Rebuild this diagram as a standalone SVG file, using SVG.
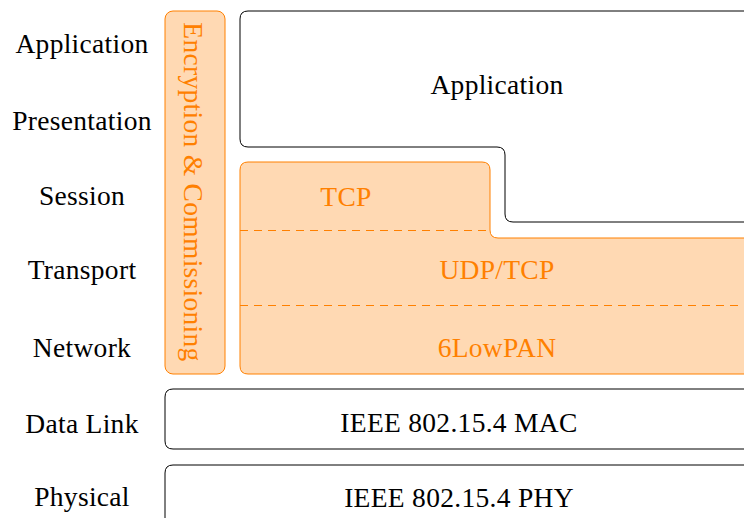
<svg xmlns="http://www.w3.org/2000/svg" width="744" height="518" viewBox="0 0 744 518">
<style>
text{font-family:"Liberation Serif","DejaVu Serif",serif;font-size:27.5px;letter-spacing:0.3px;text-anchor:middle}
.lbl{fill:#000}
.ot{fill:#ff8000}
.box{fill:#fff;stroke:#000;stroke-width:1}
.obox{fill:#ffd9b3;stroke:#ff8000;stroke-width:1}
.dash{fill:none;stroke:#ff8000;stroke-width:1.2;stroke-dasharray:8 6}
</style>
<rect width="744" height="518" fill="#fff"/>
<g id="osi-labels">
<text class="lbl" x="82" y="53">Application</text>
<text class="lbl" x="82" y="130">Presentation</text>
<text class="lbl" x="82" y="205">Session</text>
<text class="lbl" x="82" y="279">Transport</text>
<text class="lbl" x="82" y="357">Network</text>
<text class="lbl" x="82" y="433">Data Link</text>
<text class="lbl" x="82" y="506">Physical</text>
</g>
<g id="encryption">
<rect class="obox" x="165" y="11" width="60" height="363" rx="8"/>
<text class="ot" transform="translate(183.5,192) rotate(90)" x="0" y="0">Encryption &amp; Commissioning</text>
</g>
<g id="application">
<path class="box" d="M760,11 H248 Q240,11 240,19 V139 Q240,147 248,147 H497 Q505,147 505,155 V214 Q505,222 513,222 H760"/>
<text class="lbl" x="497" y="94">Application</text>
</g>
<g id="transport-network">
<path class="obox" d="M760,238 H498 Q490,238 490,230 V170 Q490,162 482,162 H248 Q240,162 240,170 V366 Q240,374 248,374 H760"/>
<text class="ot" x="346" y="206">TCP</text>
<text class="ot" x="497" y="279">UDP/TCP</text>
<text class="ot" x="497" y="357">6LowPAN</text>
</g>
<g id="dividers">
<path class="dash" d="M240,230.5 H490"/>
<path class="dash" d="M240,305.5 H760"/>
</g>
<g id="mac">
<path class="box" d="M760,389 H173 Q165,389 165,397 V441 Q165,449 173,449 H760"/>
<text class="lbl" x="459" y="432">IEEE 802.15.4 MAC</text>
</g>
<g id="phy">
<path class="box" d="M760,465 H173 Q165,465 165,473 V530"/>
<text class="lbl" x="459" y="507">IEEE 802.15.4 PHY</text>
</g>
</svg>
